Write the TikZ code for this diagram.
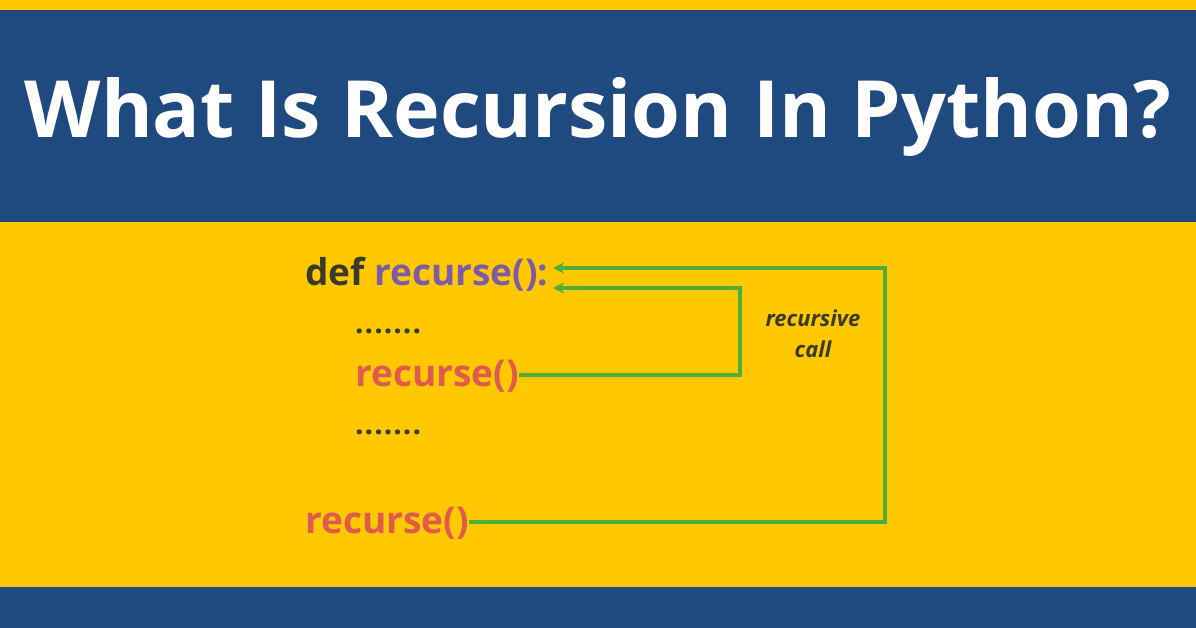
\documentclass[tikz,border=0pt]{standalone}
\usepackage{fontspec}
\setmainfont{Open Sans}
\usetikzlibrary{positioning,arrows.meta}
\definecolor{bandblue}{HTML}{1F4A80}
\definecolor{bgyellow}{HTML}{FFC800}
\definecolor{callgreen}{HTML}{4CAF3A}
\definecolor{defgray}{HTML}{3A3A2A}
\definecolor{fnpurple}{HTML}{7E5BA8}
\definecolor{fnred}{HTML}{E05A4E}
\tikzset{
  code/.style={font=\fontsize{37}{40}\selectfont\bfseries, inner sep=0pt, anchor=base west},
  dots/.style={font=\fontsize{30}{32}\selectfont\bfseries, text=defgray, inner sep=0pt, anchor=base west},
  call/.style={draw=callgreen, line width=3.5pt},
  back/.style={call, -{Stealth[length=11pt,width=11pt]}}
}
\begin{document}
\begin{tikzpicture}[x=1pt,y=-1pt]
        % background
        \useasboundingbox (0,0) rectangle (1196,628);
        \fill[bgyellow] (0,0) rectangle (1196,628);
        \fill[bandblue] (0,10) rectangle (1196,222);
        \fill[bandblue] (0,587) rectangle (1196,628);

        % title
        \node[font=\fontsize{79}{84}\selectfont\bfseries, text=white] (title) at (598,117) {What Is Recursion In Python?};

        % code lines
        \node[code] (def) at (305,285) {\textcolor{defgray}{def} \textcolor{fnpurple}{recurse():}};
        \node[dots] (dotsA) at (355,333) {\spaceskip=0pt.\kern1pt.\kern1pt.\kern1pt.\kern1pt.\kern1pt.\kern1pt.};
        \node[code, text=fnred] (callA) at (355,386) {recurse()};
        \node[dots] (dotsB) at (355,434) {.\kern1pt.\kern1pt.\kern1pt.\kern1pt.\kern1pt.\kern1pt.};
        \node[code, text=fnred] (callB) at (305,533) {recurse()};

        % label
        \node[font=\fontsize{22}{31}\selectfont\bfseries\itshape, text=defgray, align=center] (lbl) at (813,334) {recursive\\call};

        % connectors
        \coordinate (headA) at (553,288);
        \coordinate (headB) at (553,268);
        \draw[back] (callA.east |- 0,375) -- (740,375) -- (740,288) -- (headA);
        \draw[back] (callB.east |- 0,522) -- (885,522) -- (885,268) -- (headB);
\end{tikzpicture}
\end{document}
